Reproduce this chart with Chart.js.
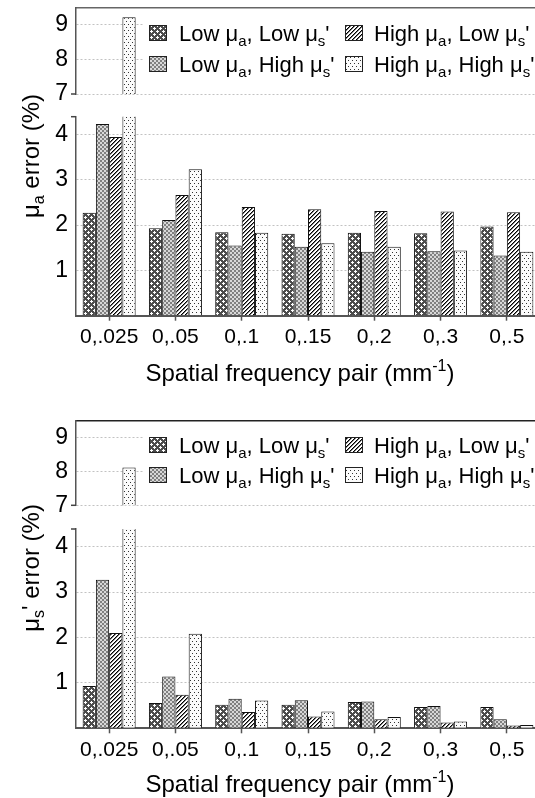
<!DOCTYPE html>
<html>
<head>
<meta charset="utf-8">
<script src="https://cdn.jsdelivr.net/npm/chart.js@4/dist/chart.umd.min.js"></script>
<style>
  html, body { margin: 0; padding: 0; background: #fff; overflow: hidden; width: 535px; height: 798px; }
  .panel { position: absolute; left: 0; width: 540px; height: 400px; }
  .panel canvas { position: absolute; left: 0; top: 0; }
</style>
</head>
<body>
<div class="panel" style="top:0">
  <canvas id="aLow" width="540" height="400"></canvas>
  <canvas id="aHigh" width="540" height="112"></canvas>
</div>
<div class="panel" style="top:413px">
  <canvas id="bLow" width="540" height="400"></canvas>
  <canvas id="bHigh" width="540" height="112"></canvas>
</div>
<script>
// categorias y series
const categories = ["0,.025", "0,.05", "0,.1", "0,.15", "0,.2", "0,.3", "0,.5"];
const seriesLabels = ["Low μ_a, Low μ_s'", "Low μ_a, High μ_s'", "High μ_a, Low μ_s'", "High μ_a, High μ_s'"];

// panel superior: error de mu_a (%)
const muaLowLow   = [2.27, 1.93, 1.84, 1.81, 1.83, 1.82, 1.97];
const muaLowHigh  = [4.23, 2.11, 1.55, 1.52, 1.41, 1.42, 1.33];
const muaHighLow  = [3.94, 2.66, 2.40, 2.35, 2.31, 2.30, 2.28];
const muaHighHigh = [9.22, 3.23, 1.83, 1.60, 1.52, 1.44, 1.41];

// panel inferior: error de mu_s' (%)
const musLowLow   = [0.93, 0.56, 0.52, 0.52, 0.58, 0.47, 0.47];
const musLowHigh  = [3.27, 1.14, 0.65, 0.62, 0.59, 0.49, 0.20];
const musHighLow  = [2.10, 0.74, 0.36, 0.26, 0.20, 0.13, 0.06];
const musHighHigh = [8.12, 2.08, 0.61, 0.37, 0.25, 0.15, 0.07];

// eje partido: tramo alto y tramo bajo
const upperRange = [7, 9.5];
const lowerRange = [0, 4.39];

const FONT = '"Liberation Sans", Arial, sans-serif';

// tramas de relleno en gris
function tile(w, h, bg, draw) {
  const c = document.createElement("canvas");
  c.width = w; c.height = h;
  const g = c.getContext("2d");
  g.fillStyle = bg; g.fillRect(0, 0, w, h);
  draw(g);
  return document.createElement("canvas").getContext("2d").createPattern(c, "repeat");
}
const patterns = [
  tile(6, 6, "#4c4c4c", g => {
    g.fillStyle = "#fff";
    [[1, 1], [4, 4]].forEach(([x, y]) => {
      g.fillRect(x - 1, y, 3, 1); g.fillRect(x, y - 1, 1, 3);
    });
  }),
  tile(4, 4, "#d8d8d8", g => {
    g.fillStyle = "#808080";
    g.fillRect(0, 0, 2, 2); g.fillRect(2, 2, 2, 2);
  }),
  tile(4, 4, "#fff", g => {
    g.fillStyle = "#000";
    [[3, 0], [2, 1], [1, 2], [0, 3]].forEach(([x, y]) => g.fillRect(x, y, 1, 1));
    g.fillStyle = "#777";
    [[0, 0], [3, 1], [2, 2], [1, 3]].forEach(([x, y]) => g.fillRect(x, y, 1, 1));
  }),
  tile(4, 6, "#fbfbfb", g => {
    g.fillStyle = "#333";
    g.fillRect(0, 0, 1, 1); g.fillRect(2, 3, 1, 1);
  }),
];

// texto con sub/superindices: _x subindice, ^{..} superindice
function parseRich(s) {
  const runs = []; let buf = "";
  for (let i = 0; i < s.length; i++) {
    const c = s[i];
    if (c === "_" || c === "^") {
      if (buf) runs.push({ t: buf, k: 0 });
      buf = "";
      let t;
      if (s[i + 1] === "{") { const j = s.indexOf("}", i); t = s.slice(i + 2, j); i = j; }
      else { t = s[i + 1]; i++; }
      runs.push({ t, k: c === "_" ? 1 : -1 });
    } else buf += c;
  }
  if (buf) runs.push({ t: buf, k: 0 });
  return runs;
}
function drawRich(ctx, s, x, y, size, align) {
  const runs = parseRich(s);
  const small = Math.round(size * 0.68);
  let w = 0;
  runs.forEach(r => {
    ctx.font = (r.k ? small : size) + "px " + FONT;
    r.w = ctx.measureText(r.t).width; w += r.w;
  });
  let cx = align === "center" ? x - w / 2 : x;
  ctx.textAlign = "left";
  ctx.textBaseline = "alphabetic";
  ctx.fillStyle = "#000";
  runs.forEach(r => {
    ctx.font = (r.k ? small : size) + "px " + FONT;
    const dy = r.k === 1 ? size * 0.22 : r.k === -1 ? -size * 0.4 : 0;
    ctx.fillText(r.t, cx, y + dy);
    cx += r.w;
  });
}

// leyenda, titulos y marcas de corte del eje
const deco = {
  id: "deco",
  afterDraw(chart, args, o) {
    const { ctx, chartArea: a } = chart;
    ctx.save();
    ctx.strokeStyle = "#444";
    ctx.lineWidth = 1.5;
    if (o.breakAt) {
      const y = o.breakAt === "top" ? a.top : a.bottom;
      ctx.beginPath(); ctx.moveTo(a.left - 5, y); ctx.lineTo(a.left, y); ctx.stroke();
    }
    if (o.legend) {
      ctx.fillStyle = "#fff";
      ctx.fillRect(144, o.legend.rows[0] - 17, 400, o.legend.rows[1] - o.legend.rows[0] + 34);
      const cols = [[149, 179], [345, 374]];
      seriesLabels.forEach((lab, i) => {
        const [sx, tx] = cols[Math.floor(i / 2)];
        const cy = o.legend.rows[i % 2];
        ctx.fillStyle = patterns[i];
        ctx.fillRect(sx, cy - 8, 18, 16);
        ctx.strokeStyle = "#222"; ctx.lineWidth = 1;
        ctx.strokeRect(sx + 0.5, cy - 7.5, 17, 15);
        drawRich(ctx, lab, tx, cy + 8, 22, "left");
      });
    }
    if (o.yTitle) {
      ctx.translate(30, o.yTitleY);
      ctx.rotate(-Math.PI / 2);
      drawRich(ctx, o.yTitle, 0, 24 * 0.36, 24, "center");
      ctx.setTransform(1, 0, 0, 1, 0, 0);
    }
    if (o.xTitle) {
      drawRich(ctx, o.xTitle, 300, o.xTitleY + 24 * 0.36, 24, "center");
    }
    ctx.restore();
  }
};

function datasetsFrom(values) {
  return values.map((v, i) => ({
    label: seriesLabels[i],
    data: v,
    backgroundColor: patterns[i],
    borderColor: "#111",
    borderWidth: 1,
    clip: 0,
  }));
}

const gridColor = "#c2c2c2";
const yTickFont = { family: FONT, size: 23 };

function upperChart(id, values, lay) {
  const H = 112;
  return new Chart(document.getElementById(id), {
    type: "bar",
    data: { labels: categories, datasets: datasetsFrom(values) },
    plugins: [deco],
    options: {
      responsive: false,
      animation: false,
      layout: { padding: { top: lay.upperTop, bottom: H - lay.upperBottom, left: 0, right: 0 } },
      datasets: { bar: { categoryPercentage: 0.8, barPercentage: 1 } },
      plugins: {
        legend: { display: false },
        tooltip: { enabled: false },
        deco: { breakAt: "bottom", legend: { rows: lay.legendRows } },
      },
      scales: {
        x: {
          position: "top",
          ticks: { display: false },
          grid: { drawOnChartArea: false, drawTicks: false },
          border: { color: lay.frame, width: 1.5 },
          afterFit: s => { s.height = 0; s.paddingLeft = 0; s.paddingRight = 0; },
        },
        y: {
          min: upperRange[0], max: upperRange[1],
          ticks: { stepSize: 1, includeBounds: false, padding: 8, color: "#000", font: yTickFont },
          grid: { color: gridColor, drawTicks: false, borderDash: [2, 2] },
          border: { color: "#555", width: 1.5, dash: [2, 2] },
          afterFit: s => { s.width = 76; s.paddingTop = 0; s.paddingBottom = 0; },
        },
      },
    },
  });
}

function lowerChart(id, values, lay) {
  const H = 400;
  return new Chart(document.getElementById(id), {
    type: "bar",
    data: { labels: categories, datasets: datasetsFrom(values) },
    plugins: [deco],
    options: {
      responsive: false,
      animation: false,
      layout: { padding: { top: lay.lowerTop, bottom: 0, left: 0, right: 0 } },
      datasets: { bar: { categoryPercentage: 0.8, barPercentage: 1 } },
      plugins: {
        legend: { display: false },
        tooltip: { enabled: false },
        deco: { breakAt: "top", yTitle: lay.yTitle, yTitleY: lay.yTitleY, xTitle: "Spatial frequency pair (mm^{-1})", xTitleY: lay.xTitleY },
      },
      scales: {
        x: {
          ticks: { padding: 4, color: "#000", font: { family: FONT, size: 21 }, maxRotation: 0, autoSkip: false },
          grid: { offset: false, drawOnChartArea: false, tickLength: 5, tickColor: "#555", tickWidth: 1.5 },
          border: { color: "#555", width: 2 },
          afterFit: s => { s.height = H - lay.lowerBottom; s.paddingLeft = 0; s.paddingRight = 0; },
        },
        y: {
          min: lowerRange[0], max: lowerRange[1],
          ticks: { stepSize: 1, includeBounds: false, padding: 8, color: "#000", font: yTickFont,
                   callback: v => (v === 0 ? "" : v) },
          grid: { color: c => (c.tick && c.tick.value === 0 ? "rgba(0,0,0,0)" : gridColor), drawTicks: false, borderDash: [2, 2] },
          border: { color: "#555", width: 1.5, dash: [2, 2] },
          afterFit: s => { s.width = 76; s.paddingTop = 0; s.paddingBottom = 0; },
        },
      },
    },
  });
}

const layA = { upperTop: 7.5, upperBottom: 94, lowerTop: 116.7, lowerBottom: 315.7, frame: "#666",
               legendRows: [33, 64], yTitle: "μ_a error (%)", yTitleY: 156, xTitleY: 372 };
const layB = { upperTop: 7.7, upperBottom: 92.3, lowerTop: 116, lowerBottom: 315.3, frame: "#222",
               legendRows: [32, 62], yTitle: "μ_s' error (%)", yTitleY: 155, xTitleY: 370 };

const muaValues = [muaLowLow, muaLowHigh, muaHighLow, muaHighHigh];
const musValues = [musLowLow, musLowHigh, musHighLow, musHighHigh];

lowerChart("aLow", muaValues, layA);
upperChart("aHigh", muaValues, layA);
lowerChart("bLow", musValues, layB);
upperChart("bHigh", musValues, layB);
</script>
</body>
</html>
